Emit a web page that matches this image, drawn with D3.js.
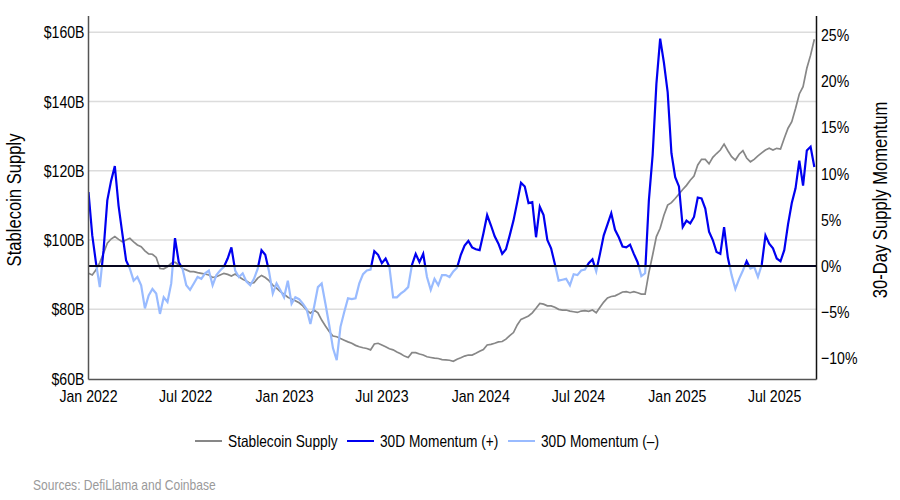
<!DOCTYPE html>
<html>
<head>
<meta charset="utf-8">
<script src="https://cdn.jsdelivr.net/npm/d3@7"></script>
<style>
  body { margin: 0; background: #fff; }
  text { font-family: "Liberation Sans", Arial, sans-serif; }
</style>
</head>
<body>
<svg id="chart" width="900" height="500"></svg>
<script>
// weekly observations starting 1 Jan 2022
var startDate = "2022-01-01";
var stepDays = 7;

// stablecoin supply, $B
var supply = [
  90.4, 89.9, 91.4, 93.5, 96.2, 99.1, 100.3, 101.0, 100.2, 99.5,
  100.0, 100.5, 99.5, 98.6, 98.1, 96.9, 96.0, 95.9, 95.0, 91.8,
  91.7, 92.3, 93.3, 93.6, 92.8, 91.8, 91.4, 90.9, 90.9, 90.6,
  90.4, 90.2, 89.9, 89.2, 89.4, 89.9, 90.4, 90.1, 89.6, 90.2,
  89.4, 88.7, 88.2, 87.5, 87.7, 89.0, 89.8, 89.2, 88.3, 87.0,
  86.1, 85.1, 84.4, 83.5, 83.0, 82.5, 81.9, 81.0, 79.8, 78.9,
  79.8, 79.0, 76.9, 75.2, 73.6, 72.3, 72.1, 71.6, 71.1, 70.6,
  70.2, 69.6, 69.2, 68.9, 68.7, 68.3, 70.0, 70.2, 69.7, 69.2,
  68.6, 68.3, 67.7, 67.2, 66.5, 66.1, 67.5, 67.5, 67.1, 66.8,
  66.3, 66.1, 65.9, 65.8, 65.5, 65.4, 65.3, 65.0, 65.6, 66.0,
  66.5, 66.8, 66.8, 67.3, 67.9, 68.4, 69.7, 69.9, 70.2, 70.6,
  70.7, 71.4, 72.4, 73.3, 75.5, 77.1, 77.6, 78.1, 79.0, 80.3,
  81.7, 81.5, 81.0, 81.0, 80.6, 80.0, 79.8, 79.8, 79.5, 79.3,
  79.1, 79.5, 79.6, 79.4, 79.8, 79.0, 80.6, 82.1, 83.3, 83.7,
  83.9, 84.4, 85.0, 85.1, 84.8, 85.1, 84.8, 84.4, 84.4, 90.6,
  95.7, 101.0, 103.4, 107.2, 110.1, 110.8, 112.0, 113.3, 114.6, 115.8,
  117.3, 118.5, 121.7, 123.3, 123.3, 122.0, 123.9, 125.0, 126.0, 127.7,
  125.8, 124.1, 123.1, 124.8, 125.8, 123.7, 122.6, 123.3, 124.3, 125.2,
  126.0, 126.5, 126.0, 126.5, 126.3, 129.4, 132.3, 134.2, 138.0, 142.2,
  144.3, 149.6, 153.4, 158.0
];

// 30-day supply momentum, %
var momentum = [
  8.0, 3.3, 0.3, -2.3, 1.7, 7.1, 9.2, 10.8, 6.5, 3.5,
  0.6, -0.3, -1.6, -1.2, -2.1, -4.6, -3.2, -2.5, -3.0, -5.2,
  -3.4, -3.9, -1.9, 3.0, 0.4, -0.3, -2.1, -2.6, -1.9, -1.2,
  -1.4, -0.8, -0.5, -2.1, -1.0, -0.5, -0.1, 0.8, 2.0, -0.5,
  -1.2, -0.8, -1.7, -2.1, -1.4, -0.3, 1.7, 1.2, -0.6, -3.0,
  -1.9, -2.6, -3.4, -1.6, -4.1, -3.4, -3.6, -4.1, -4.7, -6.3,
  -4.4, -2.3, -1.9, -4.1, -6.4, -8.9, -10.2, -6.6, -5.0, -3.5,
  -3.6, -3.5, -1.9, -0.9, -0.5, -0.4, 1.6, 1.2, 0.3, 0.8,
  -0.1, -3.4, -3.4, -3.0, -2.7, -2.3, 0.1, 1.3, 0.4, 1.3,
  -1.2, -2.6, -1.4, -2.1, -1.0, -1.0, -1.2, -0.6, -0.2, 1.2,
  2.2, 2.7, 2.0, 1.8, 1.7, 3.5, 5.5, 4.4, 3.2, 2.4,
  1.3, 1.8, 3.3, 4.9, 6.9, 9.0, 8.6, 6.8, 6.9, 3.1,
  6.4, 5.5, 2.8, 1.9, 0.2, -1.6, -1.5, -1.4, -2.1, -0.9,
  -1.0, -0.5, -0.4, 0.3, 0.7, -0.6, 1.3, 3.3, 4.5, 5.7,
  3.9, 3.1, 2.1, 2.0, 2.3, 1.3, 0.4, -1.1, -0.8, 7.1,
  12.0, 19.7, 24.6, 22.0, 18.8, 12.2, 9.6, 8.6, 4.2, 4.9,
  4.6, 5.3, 7.4, 7.3, 6.2, 3.7, 2.8, 1.5, 1.3, 4.2,
  0.9, -1.0, -2.5, -1.4, -0.5, 0.5, -0.3, -0.1, -1.2, 0.1,
  3.3, 2.4, 1.9, 0.8, 0.5, 1.7, 4.5, 6.8, 8.4, 11.4,
  8.7, 12.5, 12.9, 10.7
];

var leftTicks = [60, 80, 100, 120, 140, 160];
var rightTicks = [25, 20, 15, 10, 5, 0, -5, -10];
var xTickDates = ["2022-01-01", "2022-07-01", "2023-01-01", "2023-07-01",
                  "2024-01-01", "2024-07-01", "2025-01-01", "2025-07-01"];
var legendLabels = ["Stablecoin Supply", "30D Momentum (+)", "30D Momentum (\u2013)"];
var colores = ["#878787", "#0000f0", "#99bbff"];

var parse = d3.timeParse("%Y-%m-%d");
var inicio = parse(startDate);
var datas = supply.map(function(d, i) { return d3.timeDay.offset(inicio, i * stepDays); });

var svg = d3.select("#chart");
var esq = 88.5, dir = 816.5, topo = 20, base = 379.5;

var x = d3.scaleTime()
    .domain([inicio, parse("2025-09-17")])
    .range([esq, dir]);
var yEsq = d3.scaleLinear().domain([59.74, 163.55]).range([base, topo]);
var yDir = d3.scaleLinear().domain([-12.3, 26.62]).range([base, topo]);

// grade horizontal
svg.append("g").selectAll("line")
    .data(leftTicks.filter(function(t) { return t > 60; }))
    .enter().append("line")
    .attr("x1", esq).attr("x2", dir)
    .attr("y1", function(d) { return yEsq(d); })
    .attr("y2", function(d) { return yEsq(d); })
    .attr("stroke", "#dcdcdc").attr("stroke-width", 1.5);

// linha de oferta
var linhaOferta = d3.line()
    .x(function(d, i) { return x(datas[i]); })
    .y(function(d) { return yEsq(d); });
svg.append("path").datum(supply)
    .attr("d", linhaOferta)
    .attr("fill", "none").attr("stroke", colores[0]).attr("stroke-width", 1.7);

// momentum dividido em positivo / negativo
var zeroY = yDir(0);
var defs = svg.append("defs");
defs.append("clipPath").attr("id", "acima")
    .append("rect").attr("x", esq).attr("y", 0).attr("width", dir - esq).attr("height", zeroY);
defs.append("clipPath").attr("id", "abaixo")
    .append("rect").attr("x", esq).attr("y", zeroY).attr("width", dir - esq).attr("height", 500 - zeroY);

var linhaMom = d3.line()
    .x(function(d, i) { return x(datas[i]); })
    .y(function(d) { return yDir(d); });
svg.append("path").datum(momentum)
    .attr("d", linhaMom).attr("clip-path", "url(#abaixo)")
    .attr("fill", "none").attr("stroke", colores[2]).attr("stroke-width", 2.2);
svg.append("path").datum(momentum)
    .attr("d", linhaMom).attr("clip-path", "url(#acima)")
    .attr("fill", "none").attr("stroke", colores[1]).attr("stroke-width", 2.2);

// linha zero
svg.append("line")
    .attr("x1", esq).attr("x2", dir).attr("y1", zeroY).attr("y2", zeroY)
    .attr("stroke", "#05051e").attr("stroke-width", 2);

// eixos
svg.append("line").attr("x1", esq).attr("x2", esq).attr("y1", topo - 4).attr("y2", base)
    .attr("stroke", "#555").attr("stroke-width", 1.5);
svg.append("line").attr("x1", dir).attr("x2", dir).attr("y1", topo - 4).attr("y2", base)
    .attr("stroke", "#111").attr("stroke-width", 1.5);
svg.append("line").attr("x1", esq).attr("x2", dir).attr("y1", base).attr("y2", base)
    .attr("stroke", "#555").attr("stroke-width", 1.5);

svg.append("g").selectAll("text")
    .data(leftTicks).enter().append("text")
    .attr("x", esq - 4).attr("y", function(d) { return yEsq(d); })
    .attr("dy", "0.36em").attr("text-anchor", "end")
    .attr("font-size", 17).attr("fill", "#000")
    .text(function(d) { return "$" + d + "B"; });

svg.append("g").selectAll("text")
    .data(rightTicks).enter().append("text")
    .attr("x", dir + 4.5).attr("y", function(d) { return yDir(d); })
    .attr("dy", "0.36em").attr("text-anchor", "start")
    .attr("font-size", 17).attr("fill", "#000")
    .text(function(d) { return (d < 0 ? "\u2212" + Math.abs(d) : d) + "%"; });

var fmt = d3.timeFormat("%b %Y");
svg.append("g").selectAll("text")
    .data(xTickDates.map(parse)).enter().append("text")
    .attr("x", function(d) { return x(d); }).attr("y", 402)
    .attr("text-anchor", "middle").attr("font-size", 17).attr("fill", "#000")
    .text(function(d) { return fmt(d); });

// titulos dos eixos
svg.append("text")
    .attr("transform", "translate(21,200) rotate(-90)")
    .attr("text-anchor", "middle").attr("font-size", 20)
    .text("Stablecoin Supply");
svg.append("text")
    .attr("transform", "translate(887,200) rotate(-90)")
    .attr("text-anchor", "middle").attr("font-size", 20)
    .text("30-Day Supply Momentum");

// legenda
var posLegenda = [195, 347, 508];
var leg = svg.append("g").selectAll("g")
    .data(legendLabels).enter().append("g")
    .attr("transform", function(d, i) { return "translate(" + posLegenda[i] + ",441)"; });
leg.append("line").attr("x1", 0).attr("x2", 27).attr("y1", 0).attr("y2", 0)
    .attr("stroke", function(d, i) { return colores[i]; }).attr("stroke-width", 2);
leg.append("text").attr("x", 33).attr("dy", "0.36em")
    .attr("font-size", 16.5).attr("fill", "#000")
    .text(function(d) { return d; });

// fonte
svg.append("text")
    .attr("x", 33).attr("y", 490)
    .attr("font-size", 14.5).attr("fill", "#9a9a9a")
    .text("Sources: DefiLlama and Coinbase");

// letra estreita: comprime todos os textos (sem fonte narrow instalada)
svg.selectAll("text").each(function() {
    var w = this.getComputedTextLength();
    d3.select(this).attr("textLength", (w * 0.83).toFixed(1)).attr("lengthAdjust", "spacingAndGlyphs");
});
</script>
</body>
</html>
